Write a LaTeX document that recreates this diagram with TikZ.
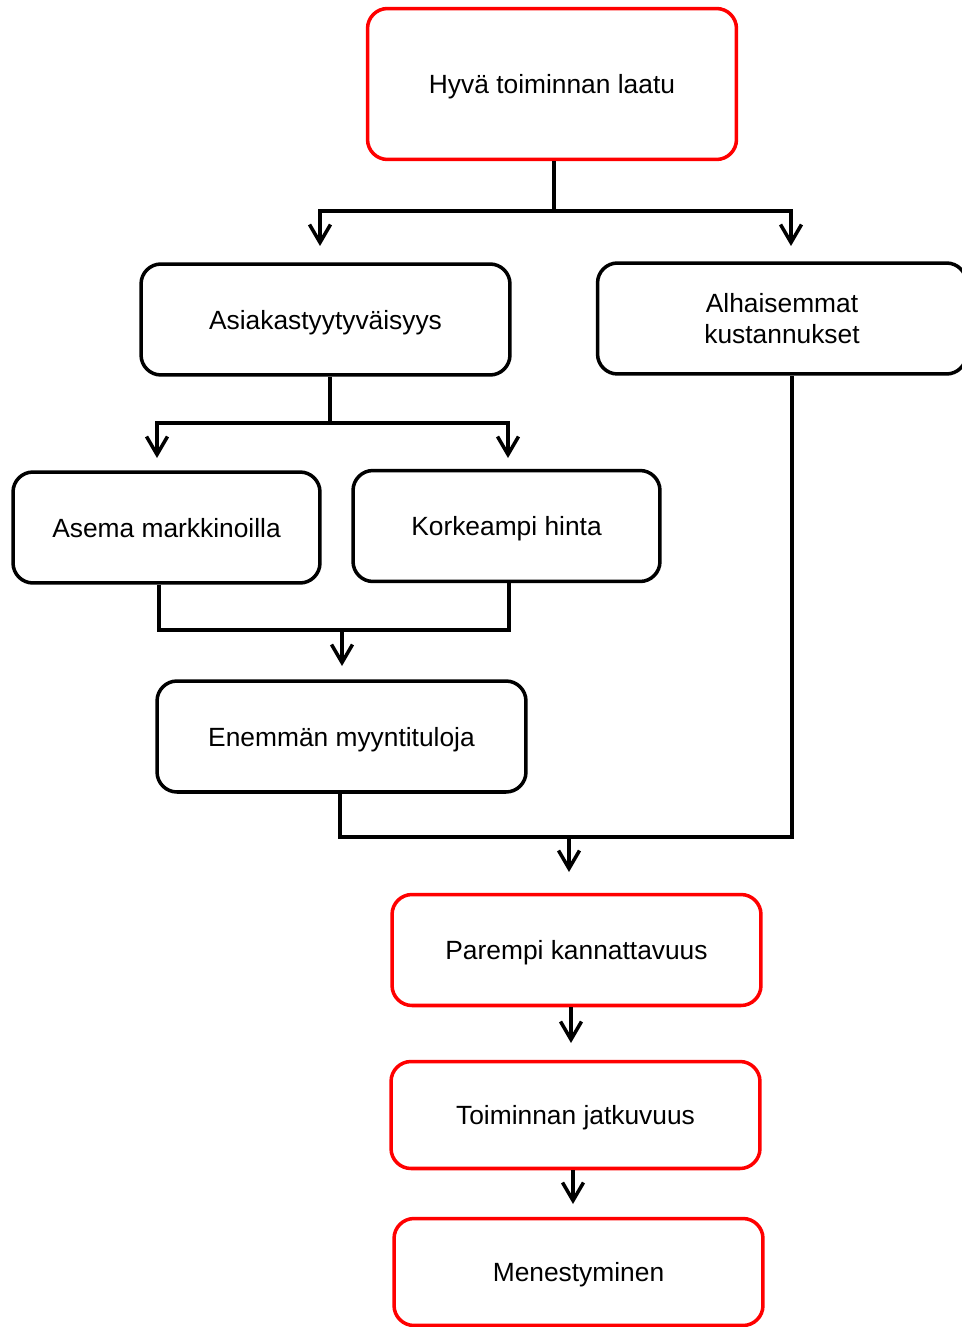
\documentclass[tikz,border=0pt]{standalone}
\usepackage{fontspec}
\setmainfont{Liberation Sans}
\usetikzlibrary{arrows.meta}
\begin{document}
\begin{tikzpicture}[x=0.02cm,y=-0.02cm,line width=2pt,
 box/.style={draw,rounded corners=0.4cm,minimum width=7.38cm,minimum height=2.22cm,align=center,text depth=0pt,font=\fontsize{15}{17.6}\selectfont},
 redbox/.style={box,draw=red},
 arr/.style={-{Straight Barb[length=0.36cm,width=0.42cm]}}]
 \useasboundingbox (0,0) rectangle (962,1327);
 \node[redbox,minimum height=3.02cm] (laatu) at (552,84){Hyvä toiminnan laatu};
 \node[box] (asiakas) at (325.5,319.5){Asiakastyytyväisyys};
 \node[box] (kustannus) at (782,318.5){Alhaisemmat\\kustannukset};
 \node[box,minimum width=6.14cm] (asema) at (166.5,527.5){Asema markkinoilla};
 \node[box,minimum width=6.14cm] (hinta) at (506.5,526){Korkeampi hinta};
 \node[box] (myynti) at (341.5,736.5){Enemmän myyntituloja};
 \node[redbox] (kannatt) at (576.5,950){Parempi kannattavuus};
 \node[redbox,minimum height=2.14cm] (jatkuv) at (575.5,1115){Toiminnan jatkuvuus};
 \node[redbox,minimum height=2.14cm] (menest) at (578.5,1272){Menestyminen};
 % ylin haara
 \coordinate (s1) at (554,211);
 \coordinate (t1) at (320,246);
 \coordinate (t2) at (791,246);
 \draw (laatu.south -| s1) -- (s1);
 \draw[arr] (s1) -| (t1);
 \draw[arr] (s1) -| (t2);
 % asiakastyytyvaisyys
 \coordinate (s2) at (330,423);
 \coordinate (t3) at (157,458);
 \coordinate (t4) at (508,458);
 \draw (asiakas.south -| s2) -- (s2);
 \draw[arr] (s2) -| (t3);
 \draw[arr] (s2) -| (t4);
 % yhdistys
 \coordinate (m1) at (159,630);
 \coordinate (m2) at (509,630);
 \coordinate (s3) at (342,630);
 \coordinate (t5) at (342,666);
 \draw (asema.south -| m1) -- (m1) -- (m2) -- (hinta.south -| m2);
 \draw[arr] (s3) -- (t5);
 % kannattavuus
 \coordinate (m3) at (340,837);
 \coordinate (m4) at (792,837);
 \coordinate (s4) at (569,837);
 \coordinate (t6) at (569,872);
 \draw (myynti.south -| m3) -- (m3) -- (m4) -- (kustannus.south -| m4);
 \draw[arr] (s4) -- (t6);
 \coordinate (t7) at (571,1043);
 \coordinate (t8) at (573,1204);
 \draw[arr] (kannatt.south -| t7) -- (t7);
 \draw[arr] (jatkuv.south -| t8) -- (t8);
\end{tikzpicture}
\end{document}
